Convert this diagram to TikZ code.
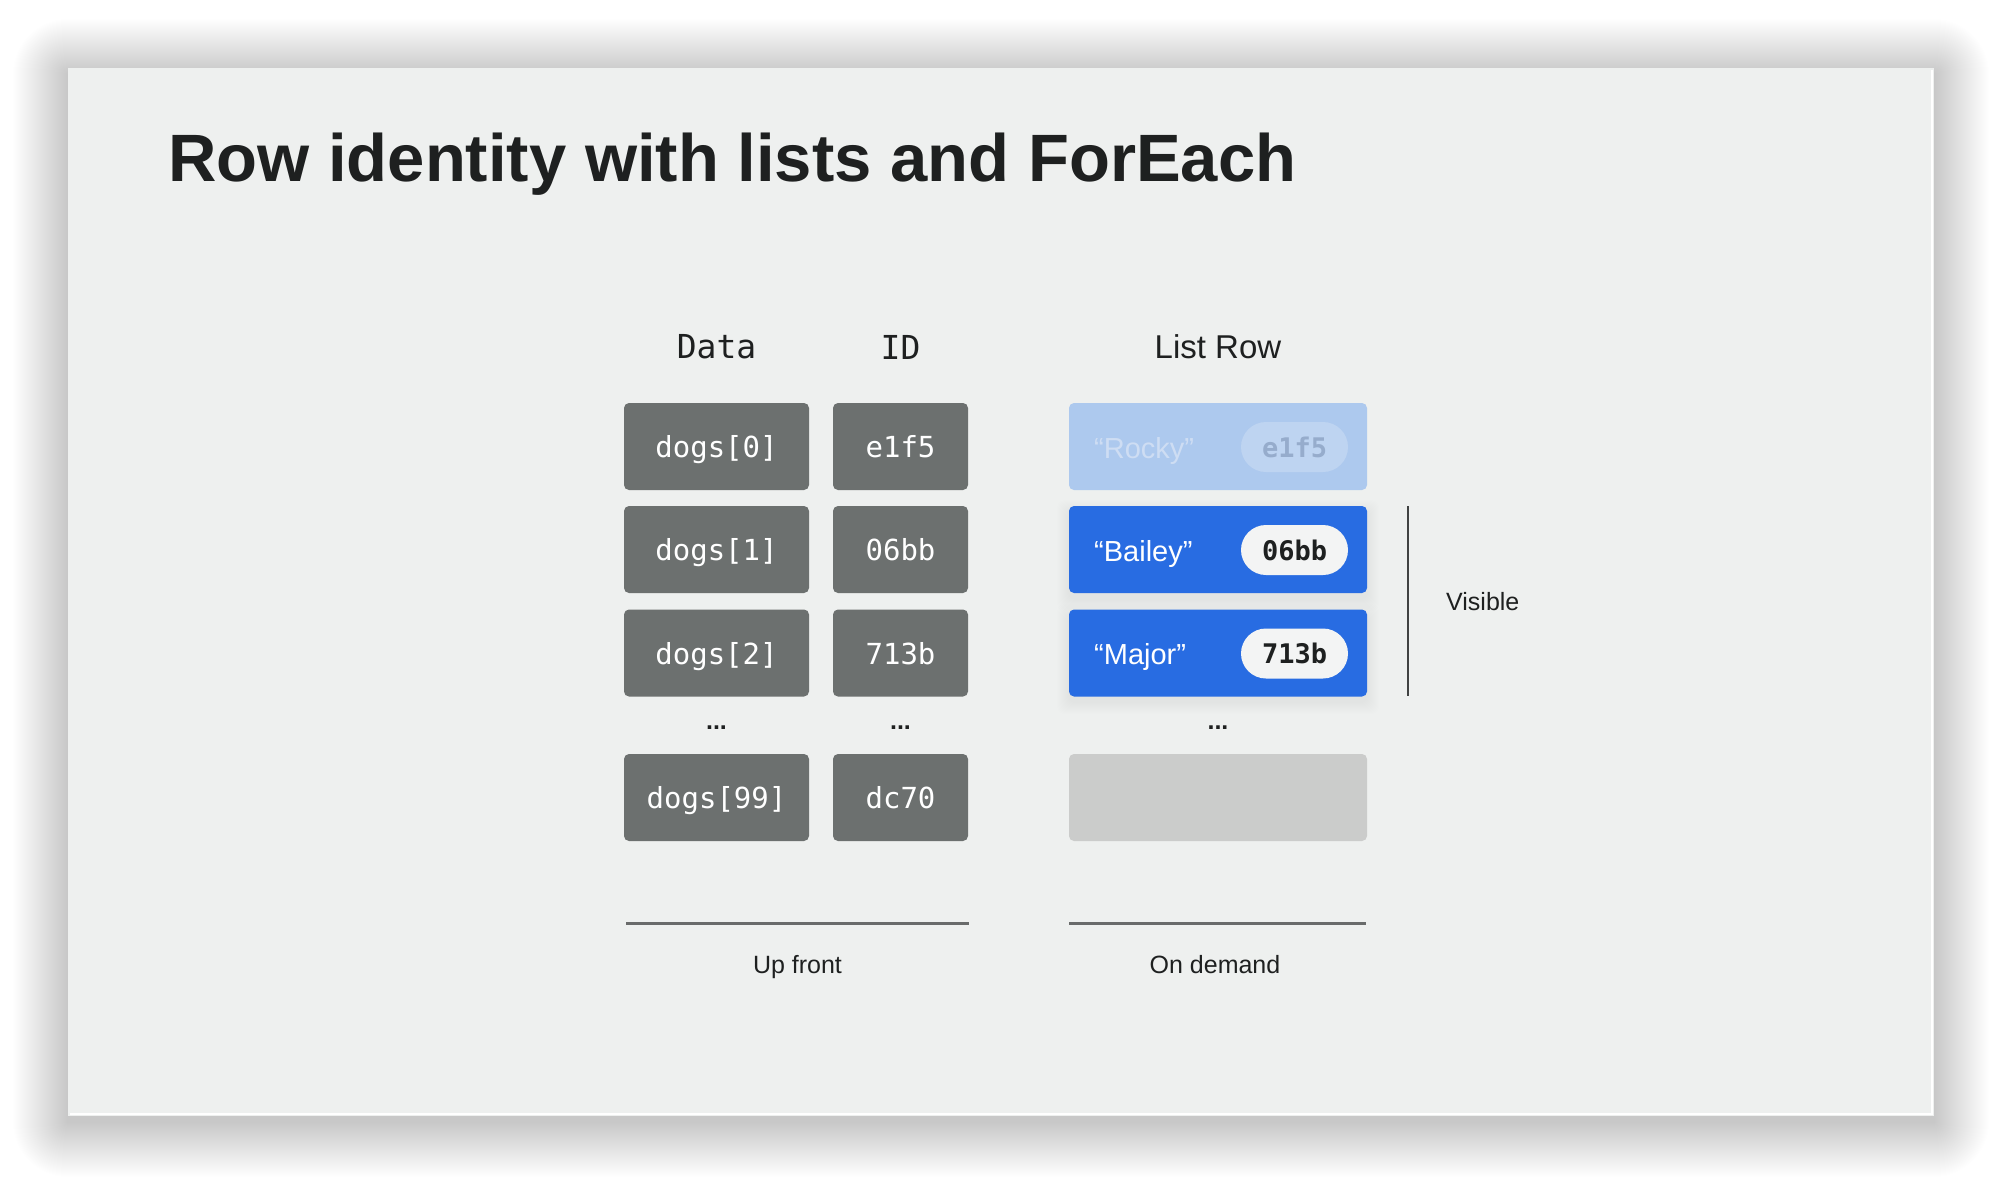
\documentclass[tikz,border=0pt]{standalone}
\usepackage{fontspec}
\setmainfont{Liberation Sans}
\newfontfamily\monofont{DejaVu Sans Mono}
\definecolor{slidebg}{RGB}{238,240,239}
\definecolor{boxgray}{RGB}{108,112,111}
\definecolor{rowblue}{RGB}{40,108,226}
\definecolor{fadeblue}{RGB}{173,201,238}
\definecolor{fadepill}{RGB}{190,212,241}
\definecolor{fadetext}{RGB}{150,172,204}
\definecolor{rockytext}{RGB}{206,221,243}
\definecolor{pillwhite}{RGB}{243,244,244}
\definecolor{emptygray}{RGB}{203,204,203}
\definecolor{ink}{RGB}{30,32,32}
\definecolor{rulegray}{RGB}{105,107,107}
\tikzset{
  databox/.style={fill=boxgray, rounded corners=5pt, minimum width=185pt, minimum height=87pt, inner sep=0pt, text height=26pt, text depth=4pt, text=white, font=\monofont\fontsize{29}{34}\selectfont},
  idbox/.style={databox, minimum width=135pt},
  rowbox/.style={rounded corners=5pt, minimum width=298pt, minimum height=87pt, inner sep=0pt},
  pill/.style={rounded corners=25pt, minimum width=107pt, minimum height=50pt, inner sep=0pt, font=\monofont\bfseries\fontsize{27}{32}\selectfont},
  rowname/.style={anchor=base west, inner sep=0pt, font=\fontsize{29}{34}\selectfont},
  header/.style={inner sep=0pt, text=ink, font=\fontsize{33}{38}\selectfont},
  monoheader/.style={inner sep=0pt, text=ink, font=\monofont\fontsize{33}{38}\selectfont},
  caption/.style={inner sep=0pt, text=ink, font=\fontsize{25}{30}\selectfont},
  dots/.style={inner sep=0pt, text=ink, font=\bfseries\fontsize{25}{30}\selectfont},
}
\begin{document}
\begin{tikzpicture}[x=1pt,y=-1pt]
\useasboundingbox (0,0) rectangle (2000,1183);
\fill[white] (0,0) rectangle (2000,1183);
% soft shadow of the slide
\foreach \i in {1,...,55}{
  \fill[black, opacity=0.0032, rounded corners=\i pt] (68-\i,74-\i) rectangle (1934+\i,1122+\i);
}
\fill[slidebg] (68,68) rectangle (1934,1116);
\draw[white, line width=1.5pt] (70,1114) -- (1932,1114) -- (1932,70);

% title
\node[anchor=base west, inner sep=0pt, text=ink, font=\bfseries\fontsize{67}{78}\selectfont] (title) at (168,181) {Row identity with lists and ForEach};

% headers
\node[monoheader] (hdata) at (716.5,347) {Data};
\node[monoheader] (hid) at (900.5,347) {ID};
\node[header] (hlist) at (1218,347) {List Row};

% data column
\node[databox] (d0) at (716.5,446.5) {dogs[0]};
\node[databox] (d1) at (716.5,549.5) {dogs[1]};
\node[databox] (d2) at (716.5,653) {dogs[2]};
\node[dots] (dd) at (716.5,728) {...};
\node[databox] (d99) at (716.5,797.5) {dogs[99]};

% id column
\node[idbox] (i0) at (900.5,446.5) {e1f5};
\node[idbox] (i1) at (900.5,549.5) {06bb};
\node[idbox] (i2) at (900.5,653) {713b};
\node[dots] (id) at (900.5,728) {...};
\node[idbox] (i99) at (900.5,797.5) {dc70};

% list rows (soft shadows under the visible ones)
\foreach \i in {1,...,12}{
  \fill[black, opacity=0.005, rounded corners=8pt] (1069-\i,506-\i+6) rectangle (1367+\i,593+\i+6);
  \fill[black, opacity=0.005, rounded corners=8pt] (1069-\i,610-\i+6) rectangle (1367+\i,696+\i+6);
}
\node[rowbox, fill=fadeblue] (r0) at (1218,446.5) {};
\node[rowbox, fill=rowblue] (r1) at (1218,549.5) {};
\node[rowbox, fill=rowblue] (r2) at (1218,653) {};
\node[dots] (rd) at (1218,728) {...};
\node[rowbox, fill=emptygray] (r99) at (1218,797.5) {};

\node[rowname, text=rockytext] (n0) at (1094,458) {“Rocky”};
\node[rowname, text=white] (n1) at (1094,561) {“Bailey”};
\node[rowname, text=white] (n2) at (1094,664.5) {“Major”};

\node[pill, fill=fadepill, text=fadetext] (p0) at (1294.5,447) {e1f5};
\node[pill, fill=pillwhite, text=ink] (p1) at (1294.5,550) {06bb};
\node[pill, fill=pillwhite, text=ink] (p2) at (1294.5,653.5) {713b};

% visible bracket
\coordinate (vtop) at (1408,506);
\coordinate (vbot) at (1408,696);
\draw[ink!85, line width=2pt] (vtop) -- (vbot);
\node[caption, anchor=west] (vis) at (1446,602) {Visible};

% bottom rules and captions
\coordinate (la) at (626,923);
\coordinate (lb) at (969,923);
\coordinate (ra) at (1069,923);
\coordinate (rb) at (1366,923);
\draw[rulegray, line width=3pt] (la) -- (lb);
\draw[rulegray, line width=3pt] (ra) -- (rb);
\node[caption, anchor=base] (up) at (797.5,973) {Up front};
\node[caption, anchor=base] (od) at (1215,973) {On demand};
\end{tikzpicture}
\end{document}
